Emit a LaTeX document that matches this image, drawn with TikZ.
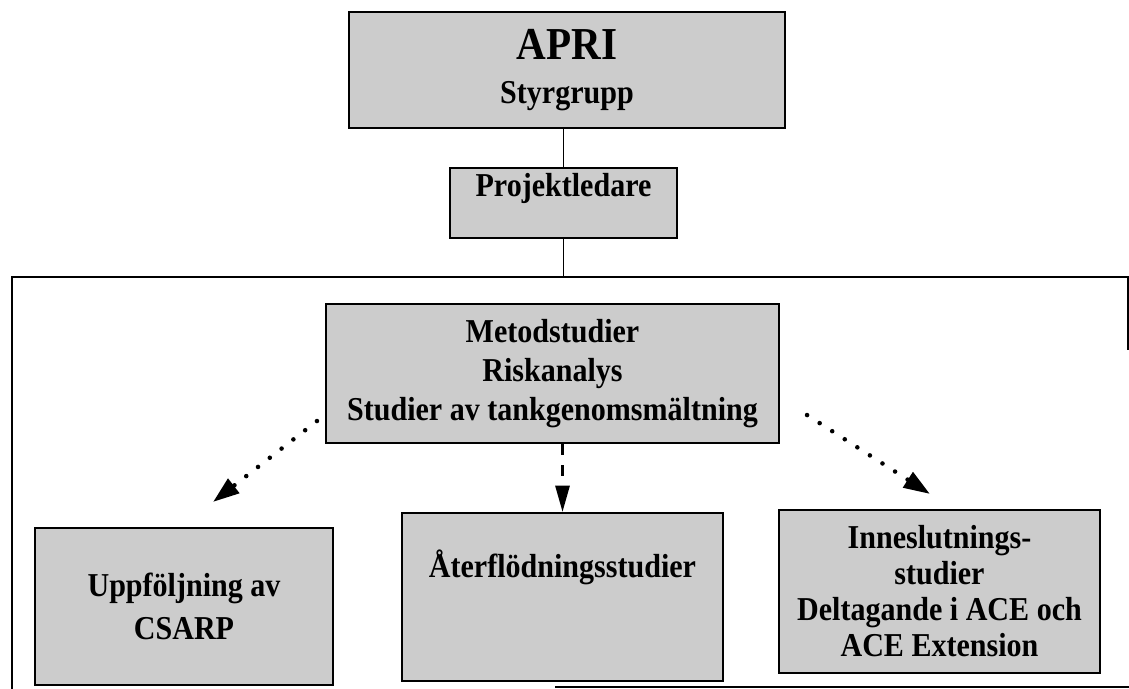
\documentclass[tikz,border=0pt]{standalone}
\usepackage{fontspec}
\setmainfont{Liberation Serif}[FakeStretch=0.9]
\usetikzlibrary{arrows.meta,positioning}
\tikzset{
  orgbox/.style={draw=black, line width=1.2pt, fill=black!20, align=center, inner sep=0pt,
    font=\bfseries\fontsize{19}{22}\selectfont},
  conn/.style={line width=0.8pt},
  frame/.style={line width=1pt},
  dotarrow/.style={line width=2.6pt, line cap=round, dash pattern=on 0pt off 8.5pt,
    -{Triangle[length=15pt,width=10pt]}},
  dasharrow/.style={line width=1.6pt, dash pattern=on 6pt off 6pt,
    -{Triangle[length=15pt,width=8pt]}}
}
\begin{document}
\begin{tikzpicture}
        \useasboundingbox (0,0) rectangle (22.58,13.78);

        \node[orgbox, minimum width=8.72cm, minimum height=2.32cm] (apri) at (11.34,12.38)
          {{\fontsize{26}{26}\selectfont APRI}\\[3pt]Styrgrupp};
        \node[orgbox, minimum width=4.54cm, text height=0.58cm, text depth=0.82cm] (proj) at (11.27,9.72) {Projektledare};

        % outer frame (open at bottom left and right)
        \coordinate (ftl) at (0.24,8.24);
        \draw[frame] (0.24,0) -- (ftl) -- (22.56,8.24) -- (22.56,6.78);
        \draw[frame] (11.1,0.04) -- (22.58,0.04);

        \draw[conn] (apri.south -| proj.north) -- (proj.north);
        \draw[conn] (proj.south) -- (proj.south |- ftl);

        \node[orgbox, minimum width=9.06cm, minimum height=2.78cm] (metod) at (11.05,6.31)
          {Metodstudier\\Riskanalys\\Studier av tankgenomsmältning};

        \node[orgbox, minimum width=5.96cm, minimum height=3.14cm] (csarp) at (3.68,1.65)
          {Uppföljning av\\[2pt]CSARP};
        \node[orgbox, minimum width=6.42cm, text height=1.3cm, text depth=2.06cm] (mid) at (11.25,1.84)
          {Återflödningsstudier};
        \node[orgbox, minimum width=6.42cm, minimum height=3.26cm, font=\bfseries\fontsize{19}{20.5}\selectfont] (ace) at (18.79,1.95)
          {Inneslutnings-\\studier\\Deltagande i ACE och\\ACE Extension};

        % arrows
        \coordinate (ltip) at (4.26,3.74);
        \coordinate (rtip) at (18.60,3.90);
        \draw[dotarrow] ([shift={(-0.16,0.46)}]metod.south west) -- (ltip);
        \draw[dotarrow] ([shift={(0.54,0.58)}]metod.south east) -- (rtip);
        \draw[dasharrow] (metod.south -| mid.north) -- (mid.north);
      \end{tikzpicture}
\end{document}
